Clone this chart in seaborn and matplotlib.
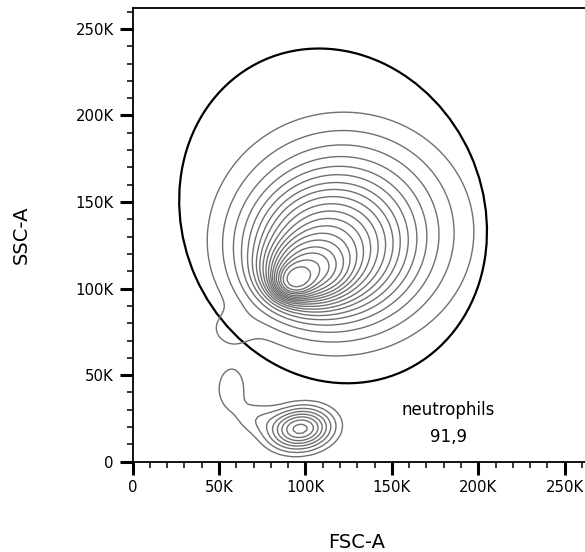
import numpy as np
import pandas as pd
import matplotlib
matplotlib.use("Agg")
import matplotlib.pyplot as plt
from matplotlib.patches import Ellipse
from matplotlib.ticker import MultipleLocator, FuncFormatter
import seaborn as sns

# cell populations, as gaussian blobs (values in K units)
# main granulocyte cloud (4 parts), debris lobe, lymphocytes, lymph tail (2 parts)
pop_x = [94, 101, 110, 122, 57, 97, 57, 72]
pop_y = [105, 110, 120, 133, 76, 19, 42, 25]
pop_sx = [6, 13, 23, 35, 9, 11, 7, 8]
pop_sy = [5, 10, 20, 32, 7, 7, 11, 6]
pop_rho = [0.1, 0.05, 0.0, 0.0, 0.0, 0.1, 0.0, 0.0]
pop_w = [0.05, 0.14, 0.27, 0.45, 0.003, 0.035, 0.005, 0.003]

# gate (ellipse) and its stats
gate_center = (116e3, 142e3)
gate_width = 197e3
gate_height = 174e3
gate_angle = 114
gate_name = "neutrophils"
gate_pct = "91,9"

major_ticks = [0, 50e3, 100e3, 150e3, 200e3, 250e3]

# evaluate the mixture on a grid and feed it to kdeplot as weights
step = 3.0
g = np.arange(0, 262 + step, step)
gx, gy = np.meshgrid(g, g)
dens = np.zeros_like(gx)
for mx, my, sx, sy, r, w in zip(pop_x, pop_y, pop_sx, pop_sy, pop_rho, pop_w):
    dx = (gx - mx) / sx
    dy = (gy - my) / sy
    q = (dx**2 - 2 * r * dx * dy + dy**2) / (1 - r**2)
    dens += w * np.exp(-q / 2) / (2 * np.pi * sx * sy * np.sqrt(1 - r**2))

df = pd.DataFrame({"FSC": gx.ravel() * 1e3, "SSC": gy.ravel() * 1e3, "w": dens.ravel()})
df = df[df.w > df.w.max() * 1e-4]

sns.set_style("ticks")
plt.rcParams['font.family'] = ['DejaVu Sans']

fig = plt.figure(figsize=(5.85, 5.52), dpi=100)
ax = fig.add_axes([132.5 / 585, 90.3 / 552, 452.5 / 585, 453.7 / 552])

sns.kdeplot(data=df, x="FSC", y="SSC", weights="w", bw_method=0.07,
            levels=20, thresh=0.05, gridsize=150, color="#707070",
            linewidths=1.0, ax=ax)

ax.add_patch(Ellipse(gate_center, gate_width, gate_height, angle=gate_angle,
                     fill=False, color="black", lw=1.6))
ax.text(182.5e3, 30e3, gate_name, ha="center", va="center", fontsize=12, color="black")
ax.text(183e3, 14e3, gate_pct, ha="center", va="center", fontsize=12, color="black")

ax.set_xlim(0, 261.7e3)
ax.set_ylim(0, 262.1e3)
ax.set_xticks(major_ticks)
ax.set_yticks(major_ticks)
ax.xaxis.set_minor_locator(MultipleLocator(10e3))
ax.yaxis.set_minor_locator(MultipleLocator(10e3))
fmt = FuncFormatter(lambda v, p: "0" if v == 0 else f"{v / 1000:.0f}K")
ax.xaxis.set_major_formatter(fmt)
ax.yaxis.set_major_formatter(fmt)
ax.tick_params(which="major", length=9.5, width=2.2, labelsize=10.7, pad=4,
               color="black", labelcolor="black")
ax.tick_params(which="minor", length=4.5, width=1.1, color="black")
for s in ["left", "bottom", "top"]:
    ax.spines[s].set_linewidth(1.3)
    ax.spines[s].set_color("black")
ax.spines["right"].set_visible(False)

ax.set_xlabel("FSC-A", fontsize=14, color="black")
ax.set_ylabel("SSC-A", fontsize=14, color="black")
ax.xaxis.set_label_coords(0.496, -0.177)
ax.yaxis.set_label_coords(-0.246, 0.5)
ax.xaxis.label.set_va("center")
ax.yaxis.label.set_va("center")

fig.savefig("out.png", dpi=100)
